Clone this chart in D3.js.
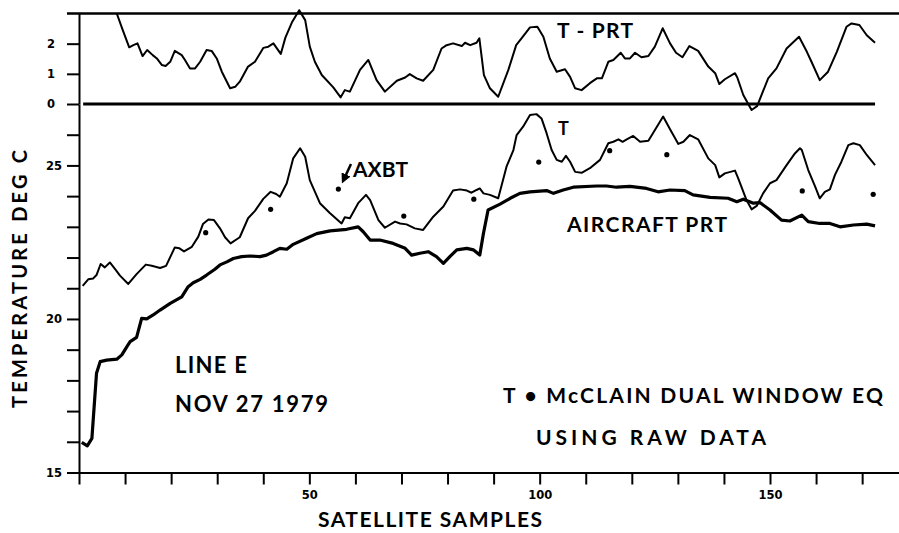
<!DOCTYPE html>
<html>
<head>
<meta charset="utf-8">
<script src="https://cdn.jsdelivr.net/npm/d3@7"></script>
<style>
body{margin:0;background:#fff}
svg{display:block}
text{font-family:Lato,"DejaVu Sans",sans-serif;font-weight:bold;fill:#000}
.tick text{font-family:"DejaVu Sans",sans-serif}
</style>
</head>
<body>
<svg id="chart" width="899" height="533"></svg>
<script>
// [sample, deg C]
var tLine = [[0.8,21.08],[2.0,21.29],[3.1,21.32],[3.8,21.43],[4.7,21.79],[5.6,21.68],[6.7,21.84],[7.8,21.63],[8.9,21.41],[10.7,21.14],
  [12.5,21.46],[14.5,21.77],[15.8,21.73],[17.6,21.66],[18.9,21.73],[20.8,22.33],[21.8,22.30],[22.8,22.20],[24.5,22.35],[25.9,22.68],
  [26.9,23.09],[28.1,23.24],[29.3,23.22],[30.6,22.95],[31.7,22.66],[32.9,22.46],[34.9,22.66],[36.7,23.28],[38.2,23.52],[40.0,23.91],
  [41.6,24.14],[42.8,24.07],[43.6,23.98],[45.1,24.42],[46.5,25.23],[48.0,25.56],[49.1,25.28],[50.1,24.52],[52.3,23.77],[54.5,23.44],
  [57.0,23.11],[57.7,23.31],[58.8,23.28],[60.6,23.77],[62.3,24.04],[63.2,23.87],[65.0,23.22],[66.4,22.97],[68.6,23.17],[69.7,23.11],
  [71.1,23.08],[72.9,22.95],[74.7,22.90],[76.9,23.33],[79.1,23.66],[81.2,24.18],[82.7,24.22],[84.2,24.18],[85.2,24.11],[86.3,24.20],
  [87.0,24.25],[87.8,24.09],[89.2,24.04],[91.0,23.93],[92.8,24.96],[94.3,25.50],[95.0,25.99],[96.4,26.26],[97.9,26.64],[99.3,26.67],
  [100.4,26.53],[101.5,26.05],[102.6,25.50],[103.7,25.18],[104.8,25.12],[105.7,25.31],[106.6,25.12],[107.7,24.79],[109.1,24.76],[110.9,24.91],
  [113.1,25.18],[114.9,25.72],[116.0,25.77],[117.1,25.85],[118.0,25.77],[118.9,25.85],[120.3,25.96],[121.8,25.77],[123.6,25.80],[126.8,26.59],
  [128.3,26.18],[130.1,25.70],[131.2,25.77],[132.6,25.99],[134.4,25.85],[136.6,25.23],[138.1,25.01],[139.0,24.61],[140.2,24.74],[142.4,24.83],
  [143.1,24.58],[144.9,23.87],[146.0,23.57],[147.1,23.68],[148.5,24.09],[150.0,24.42],[151.4,24.52],[153.6,25.01],[155.4,25.39],[156.5,25.56],
  [156.9,25.50],[158.3,24.85],[159.8,24.31],[160.8,23.93],[161.9,24.14],[163.0,24.22],[164.1,24.69],[165.5,25.12],[167.0,25.66],[168.1,25.72],
  [169.5,25.66],[171.0,25.34],[172.8,25.01]];

var prtLine = [[0.6,15.98],[1.8,15.87],[2.8,16.11],[3.8,18.23],[4.6,18.61],[6.0,18.66],[8.2,18.69],[9.3,18.83],[10.4,19.10],[11.1,19.26],
  [12.5,19.40],[13.6,20.02],[14.7,20.00],[16.1,20.13],[17.6,20.29],[19.8,20.51],[22.3,20.72],[23.7,21.05],[24.8,21.18],[26.3,21.29],
  [27.7,21.43],[29.5,21.62],[30.6,21.76],[32.1,21.86],[33.5,21.97],[35.3,22.03],[37.1,22.05],[39.3,22.03],[40.7,22.08],[42.2,22.19],
  [43.6,22.30],[45.1,22.27],[46.5,22.43],[49.4,22.63],[51.6,22.78],[54.5,22.87],[58.1,22.92],[60.6,23.00],[61.7,22.84],[63.2,22.57],
  [65.3,22.57],[68.2,22.46],[70.8,22.30],[72.2,22.08],[74.0,22.14],[75.8,22.19],[77.6,22.03],[79.1,21.81],[80.5,22.03],[82.0,22.25],
  [84.2,22.30],[85.6,22.25],[87.0,22.08],[87.8,22.79],[88.8,23.55],[91.4,23.74],[93.6,23.93],[95.7,24.09],[97.9,24.14],[101.5,24.18],
  [103.0,24.09],[105.1,24.20],[107.3,24.29],[112.4,24.33],[114.5,24.33],[116.7,24.29],[119.6,24.32],[123.2,24.25],[125.7,24.14],[128.3,24.20],
  [131.5,24.18],[133.3,24.04],[137.0,23.96],[140.9,23.93],[142.8,23.82],[144.2,23.90],[146.4,23.77],[147.8,23.79],[150.0,23.55],[152.5,23.22],
  [154.3,23.19],[156.9,23.38],[158.3,23.17],[160.8,23.11],[163.0,23.11],[165.2,23.00],[168.1,23.06],[171.0,23.09],[172.8,23.03]];

var diffLine = [[8.2,3.00],[9.5,2.45],[10.9,1.88],[11.8,1.95],[12.7,2.01],[13.8,1.59],[14.8,1.79],[16.0,1.62],[16.9,1.51],[18.0,1.29],
  [18.8,1.26],[19.8,1.40],[20.8,1.76],[22.3,1.62],[23.0,1.46],[24.1,1.18],[25.2,1.18],[26.3,1.40],[27.7,1.79],[28.8,1.76],
  [29.9,1.51],[31.0,1.07],[32.8,0.52],[33.9,0.57],[34.9,0.74],[36.7,1.24],[38.2,1.40],[40.0,1.86],[41.1,1.90],[42.2,2.01],
  [43.8,1.66],[44.8,2.20],[46.2,2.70],[47.8,3.11],[49.1,2.78],[50.1,1.90],[51.2,1.40],[52.7,0.96],[55.2,0.55],[56.8,0.22],
  [57.7,0.46],[58.8,0.41],[61.0,1.13],[62.8,1.46],[64.6,0.79],[66.4,0.41],[69.0,0.77],[70.8,0.88],[71.8,0.99],[73.3,0.85],
  [74.7,0.77],[76.9,1.13],[78.7,1.84],[79.8,1.95],[81.2,2.01],[83.1,1.92],[83.8,2.03],[84.9,1.95],[86.3,2.03],[86.9,2.18],
  [87.9,0.96],[89.2,0.52],[91.0,0.24],[93.2,1.13],[94.9,1.95],[96.1,2.18],[97.9,2.54],[99.5,2.56],[100.8,2.23],[102.2,1.51],
  [103.7,1.07],[105.5,1.15],[106.6,0.90],[107.7,0.52],[109.1,0.46],[110.9,0.69],[112.4,0.85],[113.5,0.85],[114.9,1.40],[116.0,1.46],
  [117.6,1.70],[118.5,1.51],[119.6,1.51],[120.7,1.70],[122.1,1.55],[123.6,1.59],[125.0,1.90],[126.7,2.51],[128.3,2.01],[129.6,1.70],
  [131.0,1.55],[132.5,1.92],[134.4,1.76],[136.6,1.24],[138.1,1.02],[139.0,0.66],[140.2,0.82],[142.4,1.02],[142.9,0.88],[144.2,0.30],
  [146.0,-0.20],[147.2,-0.07],[149.6,0.85],[151.4,1.18],[153.6,1.84],[156.3,2.23],[158.0,1.73],[159.0,1.40],[160.8,0.79],[162.6,1.07],
  [164.5,1.73],[166.6,2.56],[167.7,2.67],[169.4,2.62],[171.0,2.28],[172.8,2.03]];

var axbtPoints = [[27.5,22.81],[41.6,23.57],[56.3,24.23],[70.5,23.35],[85.7,23.90],[99.8,25.11],[115.2,25.48],[127.6,25.35],[157.0,24.17],[172.4,24.06]];

var xTicks = d3.range(0, 180, 10);
var xLabels = [50, 100, 150];
var lowTicks = d3.range(15, 27);
var lowLabels = [15, 20, 25];
var topTicks = [0, 1, 2];

var svg = d3.select("#chart");

var x = d3.scaleLinear().domain([0, 178]).range([79, 899]);
var yLow = d3.scaleLinear().domain([15, 27]).range([472.5, 104]);
var yTop = d3.scaleLinear().domain([0, 3]).range([104, 13.5]);

function styleAxis(g){
  g.attr("font-family", null).attr("font-size", null);
  g.selectAll("path.domain").attr("stroke-width", 2);
  g.selectAll(".tick line").attr("stroke-width", 2);
  g.selectAll(".tick text").style("font-size", "11.5px");
}

// axes
svg.append("g").attr("transform", "translate(79,0)")
  .call(d3.axisLeft(yLow).tickValues(lowTicks).tickSize(12).tickSizeOuter(0).tickPadding(5)
    .tickFormat(function(d){ return lowLabels.indexOf(d) >= 0 ? d : ""; }))
  .call(styleAxis);

svg.append("g").attr("transform", "translate(79,0)")
  .call(d3.axisLeft(yTop).tickValues(topTicks).tickSize(12).tickSizeOuter(0).tickPadding(12)
    .tickFormat(d3.format("d")))
  .call(styleAxis);

svg.append("g").attr("transform", "translate(0," + yLow(15) + ")")
  .call(d3.axisBottom(x).tickValues(xTicks).tickSize(12).tickSizeOuter(0).tickPadding(6)
    .tickFormat(function(d){ return xLabels.indexOf(d) >= 0 ? d : ""; }))
  .call(styleAxis);

// top border and zero line
svg.append("line").attr("x1", 67).attr("x2", 899)
  .attr("y1", yTop(3)).attr("y2", yTop(3))
  .attr("stroke", "#000").attr("stroke-width", 2.5);
svg.append("line").attr("x1", x(0.9)).attr("x2", x(172.8))
  .attr("y1", yTop(0)).attr("y2", yTop(0))
  .attr("stroke", "#000").attr("stroke-width", 3);

var lineLow = d3.line().x(function(d){ return x(d[0]); }).y(function(d){ return yLow(d[1]); });
var lineTop = d3.line().x(function(d){ return x(d[0]); }).y(function(d){ return yTop(d[1]); });

svg.append("path").datum(tLine).attr("d", lineLow)
  .attr("fill", "none").attr("stroke", "#000").attr("stroke-width", 2).attr("stroke-linejoin", "round");
svg.append("path").datum(prtLine).attr("d", lineLow)
  .attr("fill", "none").attr("stroke", "#000").attr("stroke-width", 3.2).attr("stroke-linejoin", "round");
svg.append("path").datum(diffLine).attr("d", lineTop)
  .attr("fill", "none").attr("stroke", "#000").attr("stroke-width", 2).attr("stroke-linejoin", "round");

svg.selectAll("circle.axbt").data(axbtPoints).enter().append("circle")
  .attr("class", "axbt")
  .attr("cx", function(d){ return x(d[0]); })
  .attr("cy", function(d){ return yLow(d[1]); })
  .attr("r", 2.6).attr("fill", "#000");

// AXBT pointer
svg.append("defs").append("marker").attr("id", "arr")
  .attr("viewBox", "0 0 10 10").attr("refX", 5).attr("refY", 5)
  .attr("markerWidth", 4).attr("markerHeight", 4).attr("orient", "auto")
  .append("path").attr("d", "M0,0L10,5L0,10z").attr("fill", "#000");
svg.append("line").attr("x1", 351).attr("y1", 164).attr("x2", 344).attr("y2", 179)
  .attr("stroke", "#000").attr("stroke-width", 2.5).attr("marker-end", "url(#arr)");

// labels: text, x, baseline y, width, font size
var notes = [
  ["T - PRT", 557, 38, 76, 21],
  ["T", 558, 135, 10, 18],
  ["AXBT", 353, 177, 55, 21],
  ["AIRCRAFT PRT", 567, 232, 160, 21],
  ["LINE E", 175, 373, 72, 22],
  ["NOV 27 1979", 175, 412, 153, 22],
  ["T \u2022 McCLAIN DUAL WINDOW EQ", 503, 403, 380, 21],
  ["USING RAW DATA", 536, 445, 230, 21],
  ["SATELLITE SAMPLES", 318, 527, 224, 21]
];
svg.selectAll("text.note").data(notes).enter().append("text")
  .attr("class", "note")
  .attr("x", function(d){ return d[1]; })
  .attr("y", function(d){ return d[2]; })
  .attr("textLength", function(d){ return d[3]; })
  .attr("lengthAdjust", "spacing")
  .style("font-size", function(d){ return d[4] + "px"; })
  .text(function(d){ return d[0]; });

svg.append("text")
  .attr("transform", "translate(27,279) rotate(-90)")
  .attr("text-anchor", "middle")
  .attr("textLength", 258).attr("lengthAdjust", "spacing")
  .style("font-size", "20px")
  .text("TEMPERATURE DEG C");
</script>
</body>
</html>
